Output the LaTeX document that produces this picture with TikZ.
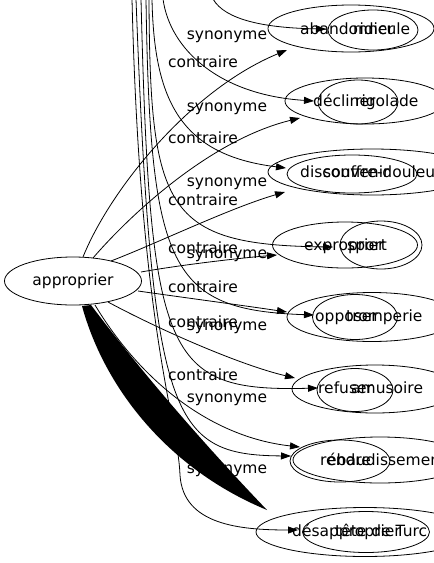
\documentclass[tikz,border=0pt]{standalone}
\usepackage{fontspec}
\setmainfont{DejaVu Sans}
\usetikzlibrary{arrows.meta,shapes.geometric}
\begin{document}
\begin{tikzpicture}[x=1pt,y=-1pt,
  txt/.style={font=\fontsize{15.5}{18}\selectfont, inner sep=0pt},
  lbl/.style={txt, anchor=base},
  wrd/.style={txt, anchor=base west},
  ell/.style={draw, ellipse, inner sep=0pt, line width=0.8pt},
  conn/.style={draw, line width=0.8pt, -{Triangle[length=10pt,width=7pt]}},
]
\useasboundingbox (0,0) rectangle (434,563);
\clip (0,0) rectangle (434,563);

% central node
\node[ell, txt, minimum width=137pt, minimum height=48pt] (ap) at (73,281) {approprier};

% ellipses of the right column
\node[ell, minimum width=166pt, minimum height=47pt] (e1a) at (351,28.5) {};
\node[ell, minimum width=90pt,  minimum height=40pt] (e1b) at (373,30) {};
\node[ell, minimum width=160pt, minimum height=46pt] (e2a) at (365,101) {};
\node[ell, minimum width=80pt,  minimum height=44pt] (e2b) at (358,102) {};
\node[ell, minimum width=208pt, minimum height=46pt] (e3a) at (372,172) {};
\node[ell, minimum width=130pt, minimum height=38pt] (e3b) at (352,174) {};
\node[ell, minimum width=145pt, minimum height=46pt] (e4a) at (345,245) {};
\node[ell, minimum width=82pt,  minimum height=48pt] (e4b) at (381,245) {};
\node[ell, minimum width=170pt, minimum height=49pt] (e5a) at (372,317) {};
\node[ell, minimum width=85pt,  minimum height=45pt] (e5b) at (355,317) {};
\node[ell, minimum width=166pt, minimum height=48pt] (e6a) at (375,389) {};
\node[ell, minimum width=76pt,  minimum height=43pt] (e6b) at (355,390) {};
\node[ell, minimum width=174pt, minimum height=46pt] (e7a) at (380,460) {};
\node[ell, minimum width=100pt, minimum height=42pt] (e7b) at (340,461) {};
\node[ell, minimum width=218pt, minimum height=49pt] (e8a) at (365,532) {};
\node[ell, minimum width=127pt, minimum height=41pt] (e8b) at (366,532) {};

% words
\node[wrd] (t1a) at (300,34) {abandonner};
\node[wrd] (t1b) at (353,34) {ridicule};
\node[wrd] (t2a) at (313,106) {décliner};
\node[wrd] (t2b) at (355,106) {rigolade};
\node[wrd] (t3a) at (300,177) {disconvenir};
\node[wrd] (t3b) at (323,177) {souffre-douleur};
\node[wrd] (t4a) at (304,250) {exproprier};
\node[wrd] (t4b) at (347,250) {sport};
\node[wrd] (t5a) at (315,321) {opposer};
\node[wrd] (t5b) at (346,321) {tromperie};
\node[wrd] (t6a) at (318,393) {refuser};
\node[wrd] (t6b) at (351,393) {amusoire};
\node[wrd] (t7a) at (320,465) {rendre};
\node[wrd] (t7b) at (327,465) {ébaudissement};
\node[wrd] (t8a) at (292,536) {désapproprier};
\node[wrd] (t8b) at (335,536) {tête de Turc};

% free ends
\coordinate (a1) at (83,257);   \coordinate (c1) at (287,50);
\coordinate (a2) at (93,258);   \coordinate (c2) at (300,118);
\coordinate (a3) at (111,261);  \coordinate (c3) at (285,192);
\coordinate (a4) at (141,272);  \coordinate (c4) at (277,255);
\coordinate (a5) at (138,291);  \coordinate (c5) at (287,312);
\coordinate (a6) at (108,302);  \coordinate (c6) at (295,378);
\coordinate (a7) at (95,305);   \coordinate (c7) at (300,447);
\coordinate (s1) at (213,-1);   \coordinate (d1) at (326,29);
\coordinate (s2) at (163,-1);   \coordinate (d2) at (314,101);
\coordinate (s3) at (152,-1);   \coordinate (d3) at (286,168);
\coordinate (s4) at (149,-1);   \coordinate (d4) at (333,247);
\coordinate (s5) at (146,-1);   \coordinate (d5) at (314,315);
\coordinate (s6) at (141,-1);   \coordinate (d6) at (318,388);
\coordinate (s7) at (136,-1);   \coordinate (d7) at (291,456);
\coordinate (s8) at (132,-1);   \coordinate (d8) at (298,530);

% contraire edges from approprier
\draw[conn] (a1) .. controls (110,190) and (190,90) .. (c1);
\draw[conn] (a2) .. controls (130,215) and (210,140) .. (c2);
\draw[conn] (a3) .. controls (160,242) and (230,208) .. (c3);
\draw[conn] (a4) .. controls (180,265) and (240,258) .. (c4);
\draw[conn] (a5) .. controls (180,297) and (240,305) .. (c5);
\draw[conn] (a6) .. controls (160,330) and (240,365) .. (c6);
\draw[conn] (a7) .. controls (140,380) and (210,437) .. (c7);

% synonyme edges from above
\draw[conn] (s1) .. controls (225,20) and (265,28) .. (d1);
\draw[conn] (s2) .. controls (170,50) and (220,95) .. (d2);
\draw[conn] (s3) .. controls (154,100) and (180,155) .. (d3);
\draw[conn] (s4) .. controls (150,210) and (165,245) .. (d4);
\draw[conn] (s5) .. controls (150,270) and (170,310) .. (d5);
\draw[conn] (s6) .. controls (150,360) and (165,392) .. (d6);
\draw[conn] (s7) .. controls (152,420) and (170,455) .. (d7);
\draw[conn] (s8) .. controls (140,330) and (178,420) .. (180,475) .. controls (183,525) and (240,530) .. (d8);

% edge labels
\node[lbl] (l1) at (227,39) {synonyme};
\node[lbl] (l2) at (203,67) {contraire};
\node[lbl] (l3) at (227,111) {synonyme};
\node[lbl] (l4) at (203,143) {contraire};
\node[lbl] (l5) at (227,186) {synonyme};
\node[lbl] (l6) at (203,205) {contraire};
\node[lbl] (l7) at (203,253) {contraire};
\node[lbl] (l8) at (227,258) {synonyme};
\node[lbl] (l9) at (203,292) {contraire};
\node[lbl] (l10) at (203,327) {contraire};
\node[lbl] (l11) at (227,330) {synonyme};
\node[lbl] (l12) at (203,380) {contraire};
\node[lbl] (l13) at (227,402) {synonyme};
\node[lbl] (l14) at (227,473) {synonyme};

% filled degenerate edge to désapproprier
\fill (82,306) .. controls (105,390) and (170,470) .. (267,510)
      .. controls (200,440) and (140,370) .. (91,305) -- cycle;
\end{tikzpicture}
\end{document}
